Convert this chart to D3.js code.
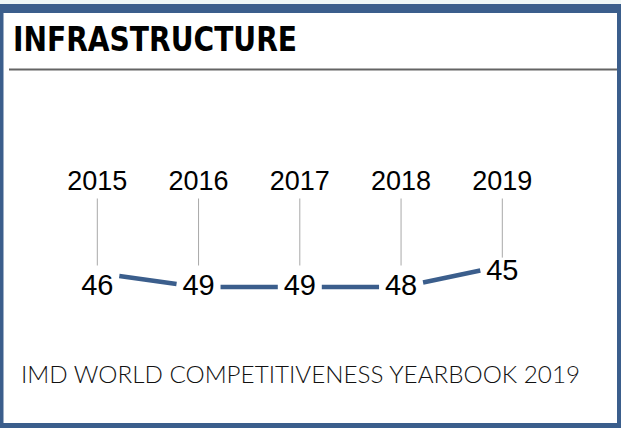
<!DOCTYPE html>
<html>
<head>
<meta charset="utf-8">
<script src="https://cdn.jsdelivr.net/npm/d3@7"></script>
<style>
  html, body { margin: 0; padding: 0; background: #ffffff; }
  svg { display: block; }
</style>
</head>
<body>
<svg id="chart" width="621" height="428"></svg>
<script>
// ---- data ----
const title = "INFRASTRUCTURE";
const source = "IMD WORLD COMPETITIVENESS YEARBOOK 2019";
const years = ["2015", "2016", "2017", "2018", "2019"];
const ranks = [46, 49, 49, 48, 45];

// ---- layout ----
const W = 621, H = 428;
const blue = "#3b5e8c";
const svg = d3.select("#chart");

// frame
svg.append("rect").attr("x", 0).attr("y", 0).attr("width", W).attr("height", H).attr("fill", "#eef6f6");
svg.append("rect").attr("x", 0).attr("y", 4).attr("width", W).attr("height", H - 4).attr("fill", blue);
svg.append("rect").attr("x", 3.5).attr("y", 13).attr("width", 617 - 3.5).attr("height", 423 - 13).attr("fill", "#ffffff");

// title
svg.append("text")
  .attr("x", 13).attr("y", 50.5)
  .attr("font-family", "'Liberation Sans Narrow', 'DejaVu Sans Condensed', 'Liberation Sans', sans-serif")
  .attr("font-weight", "bold")
  .attr("font-size", 33)
  .attr("textLength", 284)
  .attr("lengthAdjust", "spacingAndGlyphs")
  .attr("fill", "#000")
  .text(title);

svg.append("line")
  .attr("x1", 9).attr("x2", 617)
  .attr("y1", 69.5).attr("y2", 69.5)
  .attr("stroke", "#646464").attr("stroke-width", 2);

// scales
const x = d3.scalePoint().domain(years).range([97.3, 502.3]);
const y = d3.scaleLinear().domain([45, 48]).range([266, 287]).clamp(true);
const yLabel = d3.scaleLinear().domain([45, 46]).range([270, 284.5]).clamp(true);

const data = years.map((yr, i) => ({ year: yr, rank: ranks[i] }));

const labelSize = 29;
const capHalf = 0.716 * labelSize / 2;

// year labels (top axis)
svg.append("g").selectAll("text").data(data).join("text")
  .attr("x", d => x(d.year))
  .attr("y", 189.5)
  .attr("text-anchor", "middle")
  .attr("font-family", "'Liberation Sans', Arial, Helvetica, sans-serif")
  .attr("font-size", 27)
  .attr("fill", "#000")
  .text(d => d.year);

// vertical guide lines
svg.append("g").selectAll("line").data(data).join("line")
  .attr("x1", d => x(d.year)).attr("x2", d => x(d.year))
  .attr("y1", 198.5)
  .attr("y2", d => Math.min(265.5, yLabel(d.rank) - capHalf - 2))
  .attr("stroke", "#a8a8a8").attr("stroke-width", 1);

// connecting segments (gapped around labels)
const gap = 22;
const segs = d3.pairs(data).map(([a, b]) => {
  const x0 = x(a.year), y0 = y(a.rank), x1 = x(b.year), y1 = y(b.rank);
  const dx = x1 - x0;
  const t0 = gap / dx, t1 = 1 - gap / dx;
  return [[x0 + dx * t0, y0 + (y1 - y0) * t0], [x0 + dx * t1, y0 + (y1 - y0) * t1]];
});
const line = d3.line();
svg.append("g").selectAll("path").data(segs).join("path")
  .attr("d", d => line(d))
  .attr("fill", "none")
  .attr("stroke", blue)
  .attr("stroke-width", 4.5)
  .attr("stroke-linecap", "butt");

// rank labels
svg.append("g").selectAll("text").data(data).join("text")
  .attr("x", d => x(d.year))
  .attr("y", d => yLabel(d.rank) + capHalf)
  .attr("text-anchor", "middle")
  .attr("font-family", "'Liberation Sans', Arial, Helvetica, sans-serif")
  .attr("font-size", labelSize)
  .attr("fill", "#000")
  .text(d => d.rank);

// source footer
svg.append("text")
  .attr("x", 21).attr("y", 383)
  .attr("font-family", "Lato, 'Open Sans', 'DejaVu Sans', sans-serif")
  .attr("font-weight", 300)
  .attr("font-size", 24)
  .attr("textLength", 559)
  .attr("lengthAdjust", "spacingAndGlyphs")
  .attr("fill", "#111")
  .text(source);
</script>
</body>
</html>
